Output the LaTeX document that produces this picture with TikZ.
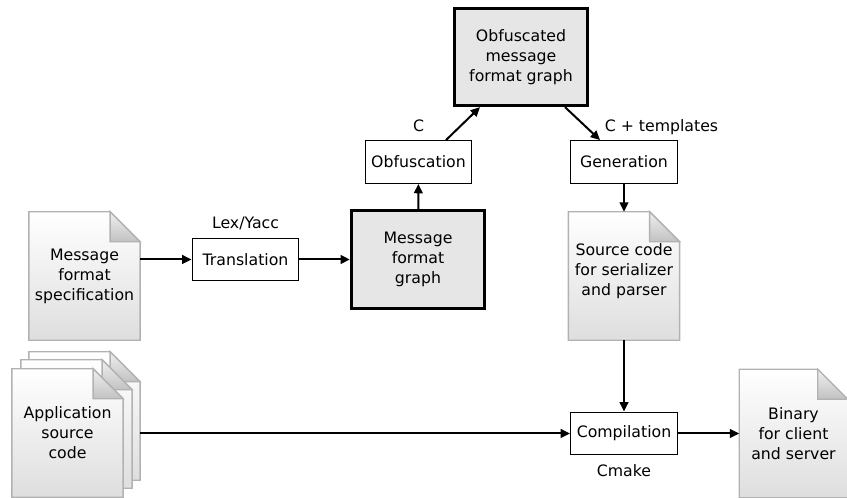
\documentclass[tikz,border=0pt]{standalone}
\usepackage{fontspec}
\setmainfont{DejaVu Sans}
\usetikzlibrary{arrows.meta, positioning, backgrounds, calc}
\definecolor{docline}{RGB}{178,178,178}
\definecolor{docgray}{RGB}{222,222,222}
\definecolor{foldgray}{RGB}{200,200,200}
\definecolor{graphfill}{RGB}{230,230,230}
\newcommand{\boxfont}{\fontsize{11.8}{15}\selectfont}
\newcommand{\foldsize}{22.5pt}
\tikzstyle{stepbox} = [rectangle, draw=black, line width=0.9pt, fill=white, minimum width=80pt, minimum height=32pt, text centered, font=\boxfont]
\tikzstyle{graphbox} = [rectangle, draw=black, line width=2.2pt, fill=graphfill, minimum width=100pt, minimum height=73pt, align=center, font=\boxfont]
\tikzstyle{docnode} = [rectangle, minimum width=83pt, minimum height=96pt, inner sep=0pt, align=center, font=\boxfont]
\tikzstyle{tool} = [font=\boxfont]
\tikzstyle{arrow} = [line width=1.5pt,-{Triangle[length=7pt,width=6.5pt]}]
% page with a folded corner, drawn under the node text
\newcommand{\docpage}[1]{%
  \draw[draw=docline, line width=1pt, top color=white, bottom color=docgray]
    (#1.south west) -- (#1.north west) -- ([xshift=-\foldsize]#1.north east)
    -- ([yshift=-\foldsize]#1.north east) -- (#1.south east) -- cycle;
  \draw[draw=docline, line width=1pt, top color=black!6, bottom color=black!24]
    ([xshift=-\foldsize]#1.north east) -- ([xshift=-\foldsize,yshift=-\foldsize]#1.north east)
    -- ([yshift=-\foldsize]#1.north east) -- cycle;}

\begin{document}
\begin{tikzpicture}[x=0.75pt, y=-0.75pt]
\useasboundingbox (0,0) rectangle (847,498);

% Inputs
\node (spec) [docnode] at (84.5,276) {Message\\format\\specification};
\node (appback) [docnode] at (84.5,416) {};
\node (appmid) [docnode] at (76.5,424) {};
\node (app) [docnode] at (67.5,433) {Application\\source\\code};

% Translation and graph
\node (trans) [stepbox] at (245.5,259.5) {Translation};
\node [tool, above=2pt of trans] {Lex/Yacc};
\node (graph) [graphbox] at (418,259.5) {Message\\format\\graph};

% Obfuscation
\node (obf) [stepbox] at (418.5,162) {Obfuscation};
\node [tool, above=3pt of obf] {C};
\node (obfgraph) [graphbox] at (521,57) {Obfuscated\\message\\format graph};

% Generation
\node (gen) [stepbox] at (624,162) {Generation};
\node [tool, anchor=south west] at ($(gen.north west)+(30,-1)$) {C + templates};
\node (src) [docnode] at (624,276) {Source code\\for serializer\\and parser\\[-6pt]};

% Compilation
\node (comp) [stepbox] at (624,433.5) {Compilation};
\node [tool, below=3pt of comp] {Cmake};
\node (bin) [docnode, minimum width=81pt] at (793.5,433.5) {Binary\\for client\\and server};

% Pages
\begin{scope}[on background layer]
\docpage{spec}
\docpage{appback}
\docpage{appmid}
\docpage{app}
\docpage{src}
\docpage{bin}
\end{scope}

% Arrows
\draw [arrow] (trans -| spec.east) -- (trans);
\draw [arrow] (trans) -- (graph);
\draw [arrow] (graph) -- (obf);
\draw [arrow] ($(obf.north)+(27.5,0)$) -- ($(obfgraph.south)+(-41,0)$);
\draw [arrow] ($(obfgraph.south)+(44,0)$) -- ($(gen.north)+(-24,0)$);
\draw [arrow] (gen) -- (src);
\draw [arrow] (src) -- (comp);
\draw [arrow] (comp -| appback.east) -- (comp);
\draw [arrow] (comp) -- (bin);

\end{tikzpicture}
\end{document}
